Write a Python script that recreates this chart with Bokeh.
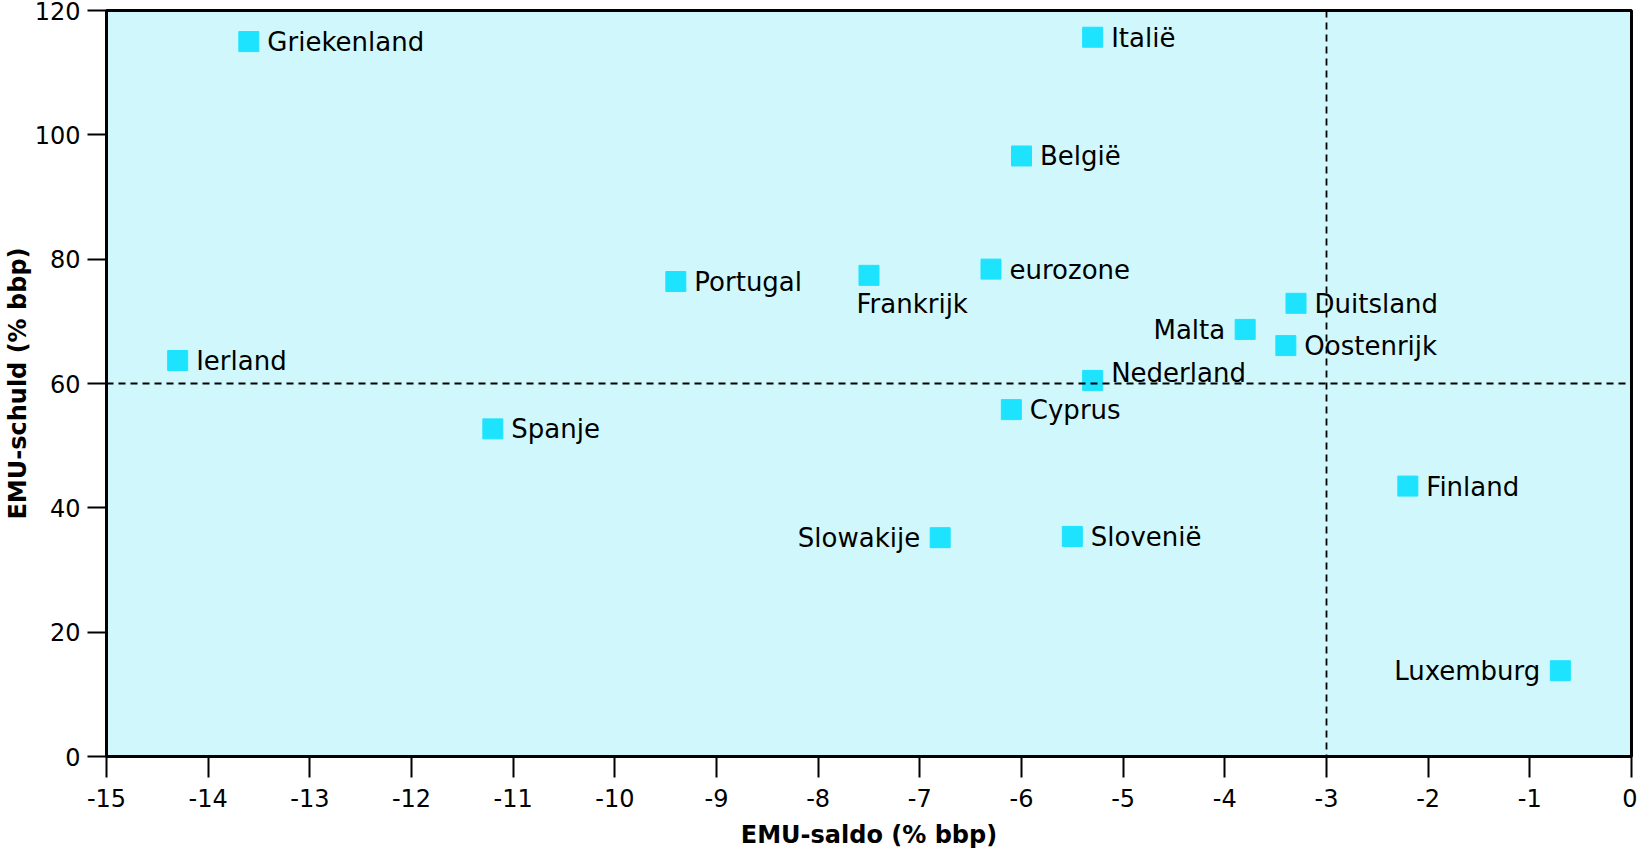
from bokeh.plotting import figure
from bokeh.models import ColumnDataSource, Span, FixedTicker
from bokeh.core.properties import value
from bokeh.embed import file_html
from bokeh.resources import INLINE

# ---- data -------------------------------------------------------------
countries = ["Griekenland", "Italië", "België", "eurozone", "Portugal",
             "Frankrijk", "Duitsland", "Malta", "Oostenrijk", "Ierland",
             "Nederland", "Cyprus", "Spanje", "Finland", "Slowakije",
             "Slovenië", "Luxemburg"]
emu_saldo = [-13.6, -5.3, -6.0, -6.3, -9.4,
             -7.5, -3.3, -3.8, -3.4, -14.3,
             -5.3, -6.1, -11.2, -2.2, -6.8,
             -5.5, -0.7]
emu_schuld = [115.0, 115.7, 96.6, 78.4, 76.4,
              77.4, 72.9, 68.7, 66.1, 63.7,
              60.5, 55.8, 52.7, 43.5, 35.2,
              35.4, 13.8]
x_ticks = list(range(-15, 1))
x_tick_labels = ["-15", "-14", "-13", "-12", "-11", "-10", "-9", "-8", "-7",
                 "-6", "-5", "-4", "-3", "-2", "-1", "0"]
y_ticks = [0, 20, 40, 60, 80, 100, 120]
y_tick_labels = ["0", "20", "40", "60", "80", "100", "120"]
ref_saldo = -3
ref_schuld = 60

# ---- label placement (style) -----------------------------------------
left_labels = {"Malta", "Slowakije", "Luxemburg"}
below_labels = {"Frankrijk"}
raised_labels = {"Nederland"}

FONT = "DejaVu Sans"
MARKER = "#1de3ff"
BG = "#d0f8fc"

p = figure(width=1637, height=852, output_backend="svg", toolbar_location=None,
           x_range=(-15, 0), y_range=(0, 120),
           min_border_left=105, min_border_right=6, min_border_top=10,
           min_border_bottom=96)

p.background_fill_color = BG
p.border_fill_color = "white"
p.outline_line_color = "black"
p.outline_line_width = 3
p.grid.visible = False

src = ColumnDataSource(dict(x=emu_saldo, y=emu_schuld, name=countries))
p.scatter("x", "y", source=src, marker="square", size=20,
          fill_color=MARKER, line_color=MARKER, line_width=1)

def subset(pred):
    idx = [i for i, c in enumerate(countries) if pred(c)]
    return ColumnDataSource(dict(x=[emu_saldo[i] for i in idx],
                                 y=[emu_schuld[i] for i in idx],
                                 name=[countries[i] for i in idx]))

common = dict(text="name", text_font=value(FONT), text_font_size="26px",
              text_color="black", text_baseline="alphabetic")
special = left_labels | below_labels | raised_labels
p.text("x", "y", source=subset(lambda c: c not in special),
       text_align="left", x_offset=18.5, y_offset=0.5, **common)
p.text("x", "y", source=subset(lambda c: c in raised_labels),
       text_align="left", x_offset=18.5, y_offset=-7.5, **common)
p.text("x", "y", source=subset(lambda c: c in left_labels),
       text_align="right", x_offset=-20, y_offset=0.5, **common)
p.text("x", "y", source=subset(lambda c: c in below_labels),
       text_align="left", x_offset=-12.5, y_offset=29, **common)

p.add_layout(Span(location=ref_schuld, dimension="width", line_color="black",
                  line_width=1.8, line_dash="7 5"))
p.add_layout(Span(location=ref_saldo, dimension="height", line_color="black",
                  line_width=1.8, line_dash="7 5"))

# axes
p.xaxis.ticker = FixedTicker(ticks=x_ticks)
p.xaxis.major_label_overrides = {t: l for t, l in zip(x_ticks, x_tick_labels)}
p.yaxis.ticker = FixedTicker(ticks=y_ticks)
p.yaxis.major_label_overrides = {t: l for t, l in zip(y_ticks, y_tick_labels)}

for ax in (p.xaxis[0], p.yaxis[0]):
    ax.axis_line_color = None
    ax.major_tick_in = 0
    ax.minor_tick_in = 0
    ax.minor_tick_out = 0
    ax.major_tick_line_color = "black"
    ax.major_tick_line_width = 2
    ax.major_label_text_font = FONT
    ax.major_label_text_font_size = "24px"
    ax.major_label_text_color = "black"
    ax.axis_label_text_font = FONT
    ax.axis_label_text_font_size = "24px"
    ax.axis_label_text_font_style = "bold"
    ax.axis_label_text_color = "black"

p.xaxis.major_tick_out = 21
p.xaxis.major_label_standoff = 11
p.xaxis.axis_label = "EMU-saldo (% bbp)"
p.xaxis.axis_label_standoff = 11

p.yaxis.major_tick_out = 19
p.yaxis.major_label_standoff = 7
p.yaxis.axis_label = "EMU-schuld (% bbp)"
p.yaxis.axis_label_standoff = 0

open("out.html", "w").write(file_html(p, INLINE))
